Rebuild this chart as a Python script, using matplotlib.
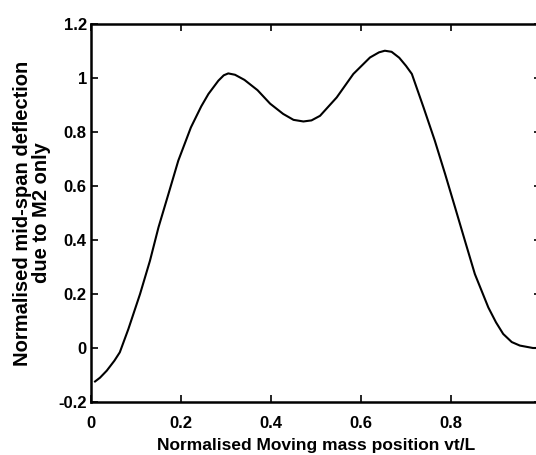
import numpy as np
import matplotlib
matplotlib.use("Agg")
import matplotlib.pyplot as plt

# values
pos = [0.009, 0.020, 0.035, 0.052, 0.064, 0.083, 0.109, 0.131, 0.150, 0.172,
       0.194, 0.222, 0.245, 0.261, 0.283, 0.295, 0.305, 0.320, 0.341, 0.370,
       0.398, 0.427, 0.450, 0.472, 0.490, 0.509, 0.546, 0.583, 0.620, 0.640,
       0.653, 0.668, 0.685, 0.700, 0.713, 0.739, 0.764, 0.787, 0.809, 0.831,
       0.853, 0.883, 0.900, 0.916, 0.935, 0.953, 0.982, 1.000]
defl = [-0.124, -0.110, -0.084, -0.047, -0.016, 0.070, 0.200, 0.323, 0.447, 0.570,
        0.694, 0.817, 0.895, 0.941, 0.990, 1.010, 1.017, 1.012, 0.993, 0.955,
        0.905, 0.867, 0.845, 0.839, 0.843, 0.860, 0.928, 1.015, 1.076, 1.095,
        1.101, 1.097, 1.075, 1.045, 1.015, 0.891, 0.768, 0.644, 0.521, 0.397,
        0.274, 0.150, 0.095, 0.052, 0.022, 0.009, 0.000, 0.000]

xticks = [0, 0.2, 0.4, 0.6, 0.8]
xticklabels = ['0', '0.2', '0.4', '0.6', '0.8']
yticks = [-0.2, 0, 0.2, 0.4, 0.6, 0.8, 1, 1.2]
yticklabels = ['-0.2', '0', '0.2', '0.4', '0.6', '0.8', '1', '1.2']

plt.rcParams['font.family'] = ['Liberation Sans', 'DejaVu Sans']
plt.rcParams['font.weight'] = 'bold'

fig = plt.figure(figsize=(5.36, 4.55), dpi=100)
# axes run a little past the right edge, as in the cropped original
ax = fig.add_axes([91/536, 53/455, 450/536, 378/455])

ax.plot(pos, defl, color='black', lw=1.5)

ax.set_xlim(0, 1)
ax.set_ylim(-0.2, 1.2)
ax.set_xticks(xticks)
ax.set_xticklabels(xticklabels)
ax.set_yticks(yticks)
ax.set_yticklabels(yticklabels)
ax.tick_params(direction='in', length=5, width=1.2, top=True, right=True,
               labelsize=12)
ax.tick_params(axis='x', pad=10)
ax.tick_params(axis='y', pad=3)
for s in ax.spines.values():
    s.set_linewidth(1.8)

ax.set_xlabel('Normalised Moving mass position vt/L', fontsize=12.5,
              fontweight='bold', labelpad=5)
ax.set_ylabel('Normalised mid-span deflection\ndue to M2 only', fontsize=14.5,
              fontweight='bold', labelpad=5, linespacing=1.05)

fig.savefig('out.png', dpi=100)
